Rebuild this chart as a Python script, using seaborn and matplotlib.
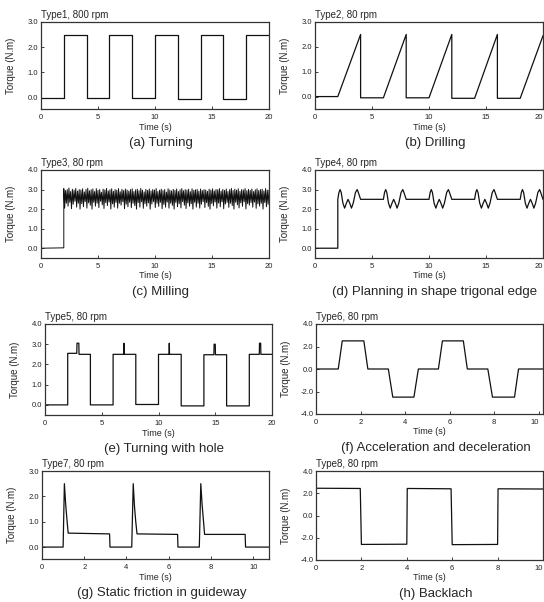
import numpy as np
import pandas as pd
import matplotlib
matplotlib.use("Agg")
import matplotlib.pyplot as plt
import seaborn as sns

# ---------------- data ----------------
type1_t = [0, 2, 2, 4, 4, 6, 6, 8, 8, 10, 10, 12, 12, 14, 14, 16, 16, 18, 18, 20]
type1_y = [0.0, 0.0, 2.5, 2.5, -0.02, -0.02, 2.5, 2.5, -0.03, -0.03, 2.49, 2.49,
           -0.05, -0.05, 2.47, 2.47, -0.04, -0.04, 2.48, 2.48]

type2_t = [0, 2, 4, 4, 6, 8, 8, 10, 12, 12, 14, 16, 16, 18, 20]
type2_y = [0.0, 0.0, 2.5, -0.05, -0.05, 2.5, -0.05, -0.05, 2.5, -0.07, -0.07, 2.5,
           -0.07, -0.07, 2.45]

type3_pre_t = [0.0, 2.0]
type3_pre_y = [0.0, 0.02]
type3_peaks = [3.05, 2.95, 3.0, 3.08, 2.9, 3.02, 2.97, 3.06, 2.92, 3.0,
               2.98, 3.04, 2.88, 3.01, 3.07, 2.94, 2.99, 3.03, 2.9, 3.05,
               2.96, 3.0, 2.86, 3.02, 2.98, 3.06, 2.93, 2.99, 3.04, 2.91,
               3.0, 2.97, 3.05, 2.89, 3.01, 2.95, 3.03, 2.98, 2.92, 3.0,
               3.04, 2.9, 2.99, 3.02, 2.94, 3.06, 2.97, 2.88, 3.01, 2.96,
               3.03, 2.93, 3.0, 2.98, 3.05, 2.9, 2.97, 3.02, 2.95, 3.0,
               2.87, 3.04, 2.98, 2.93, 3.01, 2.96, 3.03, 2.9, 2.99, 3.05,
               2.94, 3.0, 2.97, 3.02, 2.89, 3.04, 2.96, 2.99, 3.01, 2.92,
               3.03, 2.95, 3.0, 2.98, 2.91, 3.02, 2.97, 3.04, 2.93, 3.0,
               2.99, 3.05, 2.92, 3.01, 2.96, 3.03, 2.9, 3.0, 3.06, 2.95,
               3.02, 2.97, 3.04, 2.91, 3.0, 2.98, 3.05, 2.94, 3.01, 2.96,
               3.03, 2.9, 2.99, 3.04, 2.95, 3.0, 3.02, 2.93, 3.05, 2.97]
type3_troughs = [2.05, 2.3, 2.15, 2.35, 2.02, 2.25, 2.4, 2.1, 2.3, 2.0,
                 2.28, 2.12, 2.38, 2.05, 2.32, 2.2, 2.0, 2.35, 2.15, 2.3,
                 2.08, 2.4, 2.22, 2.03, 2.33, 2.18, 2.36, 2.0, 2.27, 2.1,
                 2.34, 2.05, 2.3, 2.2, 2.38, 2.02, 2.25, 2.12, 2.35, 2.07,
                 2.3, 2.18, 2.0, 2.33, 2.1, 2.37, 2.04, 2.28, 2.15, 2.32,
                 2.0, 2.26, 2.38, 2.08, 2.3, 2.14, 2.35, 2.02, 2.24, 2.1,
                 2.36, 2.05, 2.3, 2.19, 2.0, 2.34, 2.12, 2.28, 2.06, 2.38,
                 2.2, 2.03, 2.32, 2.15, 2.27, 2.0, 2.35, 2.1, 2.3, 2.05,
                 2.25, 2.38, 2.08, 2.33, 2.14, 2.0, 2.29, 2.17, 2.36, 2.05,
                 2.31, 2.12, 2.37, 2.02, 2.26, 2.34, 2.09, 2.3, 2.18, 2.0,
                 2.35, 2.22, 2.06, 2.32, 2.14, 2.38, 2.01, 2.28, 2.2, 2.33,
                 2.1, 2.36, 2.04, 2.27, 2.15, 2.3, 2.0, 2.34, 2.12, 2.25]

type4_pre_t = [0.0, 2.0]
type4_pre_y = [0.0, 0.0]
type4_cycle_starts = [2, 6, 10, 14, 18]
type4_shape_dt = [0.0, 0.1, 0.2, 0.3, 0.45, 0.6, 0.75, 0.9, 1.05, 1.2, 1.35, 1.55, 1.7, 1.8, 2.0, 4.0]
type4_shape_y = [2.5, 2.85, 3.0, 2.85, 2.3, 2.05, 2.3, 2.5, 2.3, 2.05, 2.3, 2.85, 3.0, 2.85, 2.5, 2.5]

type5_t = [0, 2, 2, 2.8, 2.82, 2.98, 3.0, 4, 4, 6, 6, 6.93, 6.95, 6.97, 8, 8, 10, 10,
           10.93, 10.95, 10.97, 12, 12, 14, 14, 14.88, 14.9, 15.0, 15.02, 16, 16, 18, 18,
           18.88, 18.9, 19.0, 19.02, 20]
type5_y = [0.0, 0.0, 2.55, 2.55, 3.05, 3.05, 2.5, 2.5, 0.0, 0.0, 2.5, 2.5, 3.05, 2.5,
           2.5, 0.02, 0.02, 2.5, 2.5, 3.05, 2.5, 2.5, -0.05, -0.05, 2.48, 2.48, 3.0, 3.0,
           2.48, 2.48, -0.05, -0.05, 2.5, 2.5, 3.05, 3.05, 2.5, 2.5]

type6_t = [0, 1.0, 1.18, 2.15, 2.33, 3.25, 3.45, 4.4, 4.6, 5.5, 5.68, 6.62, 6.8,
           7.72, 7.93, 8.92, 9.1, 10.2]
type6_y = [0.0, 0.0, 2.5, 2.5, 0.0, 0.0, -2.5, -2.5, 0.0, 0.0, 2.5, 2.5, 0.0, 0.0,
           -2.5, -2.5, 0.0, 0.0]

type7_t = [0, 1.0, 1.06, 1.12, 1.18, 1.24, 3.2, 3.22, 4.25, 4.32, 4.38, 4.44, 4.5,
           6.42, 6.44, 7.45, 7.52, 7.58, 7.64, 7.7, 9.62, 9.64, 10.75]
type7_y = [0.0, 0.0, 2.5, 1.7, 1.1, 0.55, 0.52, 0.0, 0.0, 2.5, 1.6, 1.0, 0.52, 0.5,
           0.0, 0.0, 2.5, 1.7, 1.1, 0.5, 0.5, 0.0, 0.0]

type8_t = [0, 1.95, 2.0, 4.0, 4.02, 5.95, 6.0, 8.0, 8.02, 10.0]
type8_y = [2.45, 2.43, -2.6, -2.58, 2.43, 2.4, -2.62, -2.6, 2.4, 2.38]

titles = ["Type1, 800 rpm", "Type2, 80 rpm", "Type3, 80 rpm", "Type4, 80 rpm",
          "Type5, 80 rpm", "Type6, 80 rpm", "Type7, 80 rpm", "Type8, 80 rpm"]
captions = ["(a) Turning", "(b) Drilling", "(c) Milling",
            "(d) Planning in shape trigonal edge", "(e) Turning with hole",
            "(f) Acceleration and deceleration", "(g) Static friction in guideway",
            "(h) Backlach"]

# ------------- build series -------------
n3 = len(type3_peaks)
mill_times = np.linspace(2.0, 20.0, 2 * n3 + 1)
type3_t = list(type3_pre_t) + list(mill_times)
type3_vals = []
for p, q in zip(type3_peaks, type3_troughs):
    type3_vals += [p, q]
type3_y = list(type3_pre_y) + type3_vals + [type3_peaks[-1]]

type4_t = list(type4_pre_t)
type4_y = list(type4_pre_y)
for s in type4_cycle_starts:
    type4_t += [s + d for d in type4_shape_dt]
    type4_y += list(type4_shape_y)

series = [(type1_t, type1_y), (type2_t, type2_y), (type3_t, type3_y), (type4_t, type4_y),
          (type5_t, type5_y), (type6_t, type6_y), (type7_t, type7_y), (type8_t, type8_y)]

# ------------- style -------------
sns.set_style("ticks")
plt.rcParams['font.family'] = ['Liberation Sans', 'DejaVu Sans']
plt.rcParams['axes.linewidth'] = 0.8

W, H = 544, 602
fig = plt.figure(figsize=(W / 100, H / 100), dpi=100)

# pixel boxes: left, top, right, bottom
boxes = [(41, 22, 269, 109), (315, 22, 543, 109),
         (41, 170, 269, 258), (315, 170, 543, 258),
         (45, 324, 272, 415), (316, 324, 543, 414),
         (42, 471, 269, 559), (316, 471, 543, 560)]
xlims = [(0, 20), (0, 20), (0, 20), (0, 20), (0, 20), (0, 10.2), (0, 10.75), (0, 10)]
ylims = [(-0.45, 3.0), (-0.5, 3.0), (-0.5, 4.0), (-0.5, 4.0), (-0.5, 4.0),
         (-4.0, 4.0), (-0.47, 3.0), (-4.0, 4.0)]
xticks = [[0, 5, 10, 15, 20]] * 5 + [[0, 2, 4, 6, 8, 10]] * 3
yticks = [[0, 1, 2, 3], [0, 1, 2, 3], [0, 1, 2, 3, 4], [0, 1, 2, 3, 4], [0, 1, 2, 3, 4],
          [-4, -2, 0, 2, 4], [0, 1, 2, 3], [-4, -2, 0, 2, 4]]

for i, ((l, t, r, b), (xs, ys)) in enumerate(zip(boxes, series)):
    ax = fig.add_axes([l / W, 1 - b / H, (r - l) / W, (b - t) / H])
    lw = 0.7 if i == 2 else 0.9
    sns.lineplot(x=xs, y=ys, ax=ax, sort=False, estimator=None, color='#111111',
                 linewidth=lw, legend=False)
    ax.set_xlim(*xlims[i])
    ax.set_ylim(*ylims[i])
    ax.set_xticks(xticks[i])
    ax.set_xticklabels([str(v) for v in xticks[i]])
    ax.set_yticks(yticks[i])
    ax.set_yticklabels([f"{v:.1f}" for v in yticks[i]])
    ax.tick_params(direction='in', length=2.5, width=0.6, labelsize=5.5, pad=2,
                   colors='#222222')
    ax.tick_params(axis='x', pad=3.5)
    # keep the last x tick label inside the figure for right-hand panels
    if r > 540:
        labs = ax.get_xticklabels()
        labs[-1].set_ha('right')
    for sp in ax.spines.values():
        sp.set_visible(True)
        sp.set_color('#333333')
        sp.set_linewidth(0.9)
    ax.set_xlabel("")
    ax.set_ylabel("")
    cx = (l + r) / 2
    cy = (t + b) / 2
    fig.text(l / W, 1 - (t - 7) / H, titles[i], ha='left', va='center', fontsize=7)
    fig.text((l - 30) / W, 1 - cy / H, "Torque (N.m)", rotation=90, ha='center',
             va='center', fontsize=7)
    fig.text(cx / W, 1 - (b + 18) / H, "Time (s)", ha='center', va='center', fontsize=6.5)
    fig.text((cx + 6) / W, 1 - (b + 34) / H, captions[i], ha='center', va='center',
             fontsize=9.5)

fig.savefig("out.png", dpi=100, facecolor='white')
